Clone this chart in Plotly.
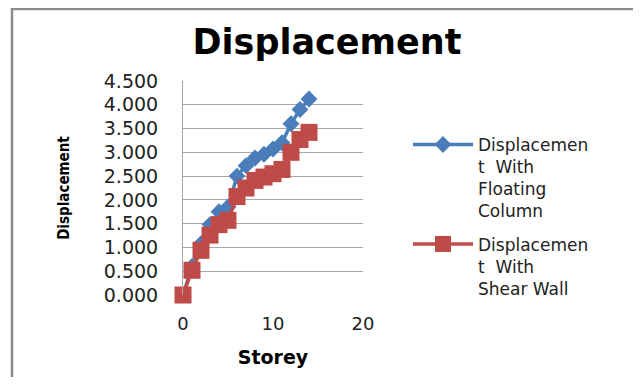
import plotly.graph_objects as go

storey = list(range(15))
disp_floating = [0.0, 0.60, 1.08, 1.48, 1.75, 1.85, 2.50, 2.72, 2.88, 2.96, 3.07, 3.20, 3.60, 3.90, 4.12]
disp_shear = [0.0, 0.52, 0.94, 1.26, 1.48, 1.57, 2.07, 2.25, 2.41, 2.48, 2.55, 2.64, 3.00, 3.27, 3.42]
names = ["Displacemen<br>t  With<br>Floating<br>Column", "Displacemen<br>t  With<br>Shear Wall"]
yticks = [0, 0.5, 1, 1.5, 2, 2.5, 3, 3.5, 4, 4.5]
xticks = [0, 10, 20]

BLUE = "#4A7EBB"
RED = "#BE4B48"
FONT = "DejaVu Sans, sans-serif"

fig = go.Figure()
fig.add_trace(go.Scatter(x=storey, y=disp_floating, name=names[0], mode="lines+markers",
                         legendgroup="a", cliponaxis=False,
                         line=dict(color=BLUE, width=3.5),
                         marker=dict(symbol="diamond", size=13, color=BLUE)))
fig.add_trace(go.Scatter(x=storey, y=disp_shear, name=names[1], mode="lines+markers",
                         legendgroup="b", cliponaxis=False,
                         line=dict(color=RED, width=3.5),
                         marker=dict(symbol="square", size=17, color=RED)))

# page body has an 8px default margin; work in window pixels and offset
OFF = 8
W, H = 641 - OFF, 385 - 2 * OFF
L, T = 183 - OFF, 81 - OFF
R = 641 - 363
pw, ph = 363 - 183, 295 - 81
B = H - T - ph

def px(x):
    return (x - OFF - L) / pw

def py(y):
    return (T + ph - (y - OFF)) / ph

fig.add_shape(type="rect", xref="paper", yref="paper",
              x0=px(12), x1=px(638), y0=py(400), y1=py(9),
              line=dict(color="#8C8C8C", width=2.5), fillcolor="rgba(0,0,0,0)", layer="below")

fig.update_layout(
    width=W, height=H,
    margin=dict(l=L, r=R, t=T, b=B, autoexpand=False),
    paper_bgcolor="white", plot_bgcolor="white",
    font=dict(family=FONT, color="#222"),
    title=dict(text="<b>Displacement</b>", xref="paper", x=px(327), xanchor="center",
               yref="container", y=1 - (42 - OFF) / H, yanchor="middle",
               font=dict(size=35, family=FONT, color="black")),
    xaxis=dict(range=[0, 20], tickvals=xticks, ticktext=[str(v) for v in xticks],
               showgrid=False, zeroline=False, showline=False,
               ticks="outside", ticklen=12, tickcolor="rgba(0,0,0,0)",
               tickfont=dict(size=18, color="#222"),
               title=dict(text="<b>Storey</b>", font=dict(size=19, color="black"), standoff=18)),
    yaxis=dict(range=[0, 4.5], tickvals=yticks, ticktext=[f"{v:.3f}" for v in yticks],
               showgrid=True, gridcolor="#A6A6A6", gridwidth=1, zeroline=False,
               showline=True, linecolor="#A6A6A6", linewidth=1,
               ticks="outside", ticklen=20, tickcolor="rgba(0,0,0,0)",
               tickfont=dict(size=19, color="#222"),
               title=dict(text="<b>Displacement</b>", font=dict(size=15, color="black",
                          family="Liberation Sans Narrow, DejaVu Sans Condensed, sans-serif"),
                          standoff=30)),
    showlegend=True,
    legend=dict(x=px(408), y=py(127), xanchor="left", yanchor="top",
                font=dict(size=17, color="#222"), itemwidth=60, valign="top",
                traceorder="grouped", tracegroupgap=8, bgcolor="rgba(0,0,0,0)"),
)

fig.write_html("out.html")
